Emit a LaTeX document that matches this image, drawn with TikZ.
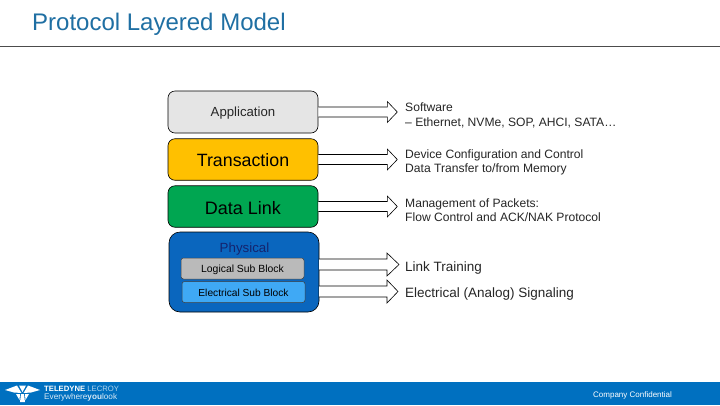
\documentclass[tikz,border=0pt]{standalone}
\usepackage{fontspec}
\setmainfont{Liberation Sans}
\usetikzlibrary{calc}
\definecolor{titleblue}{HTML}{1F6FA3}
\definecolor{barblue}{HTML}{0070C0}
\definecolor{physblue}{HTML}{0A66BE}
\definecolor{elecblue}{HTML}{3FA9F5}
\definecolor{physink}{HTML}{14246E}
\tikzset{
  x=1pt,y=-1pt,
  layer/.style={draw=black,line width=0.6pt,rounded corners=7pt,minimum width=150pt,minimum height=41.5pt,inner sep=0pt},
  sub/.style={draw=black!75,line width=0.5pt,rounded corners=2.5pt,minimum width=123pt,minimum height=21pt,inner sep=0pt},
  desc/.style={anchor=west,align=left,inner sep=0pt,text=black!85,font=\fontsize{12.1}{14.6}\selectfont},
  descb/.style={anchor=west,align=left,inner sep=0pt,text=black!85,font=\fontsize{13.5}{15}\selectfont},
  blockarrow/.style={draw=black,line width=0.6pt,fill=white},
}
% label lowered inside a centred node: extra height moves the baseline down by half of it
\newcommand{\lowered}[2]{\raisebox{0pt}[\dimexpr\height+#1\relax]{#2}}
% #1 start node, #2 tip x-offset
\newcommand{\layerarrow}[2]{%
  \draw[blockarrow] ($(#1.east)+(0,-5)$) -- ++(69,0) -- ++(0,-5.5) -- ($(#1.east)+(#2,0)$)
     -- ($(#1.east)+(69,10.5)$) -- ++(0,-5.5) -- ($(#1.east)+(0,5)$);}
\begin{document}
\begin{tikzpicture}
\useasboundingbox (0,0) rectangle (720,405);
\fill[white] (0,0) rectangle (720,405);
% title
\node[anchor=west,inner sep=0pt,text=titleblue,font=\fontsize{24}{26}\selectfont] (title) at (32,24.3) {Protocol Layered Model};
\coordinate (ruleL) at (0,46.5);
\coordinate (ruleR) at (720,46.5);
\draw[black!70,line width=0.7pt] (ruleL) -- (ruleR);
% layers
\node[layer,fill=black!10,minimum height=42pt,font=\fontsize{13.2}{15}\selectfont,text=black!85] (app) at (243,112) {\lowered{3pt}{Application}};
\node[layer,fill={rgb,255:red,255;green,192;blue,0},font=\fontsize{17.8}{20}\selectfont] (trans) at (243,159.5) {\lowered{2pt}{Transaction}};
\node[layer,fill={rgb,255:red,0;green,166;blue,81},font=\fontsize{18}{20}\selectfont] (dll) at (243,206.5) {\lowered{3pt}{Data Link}};
\node[draw=black,line width=0.6pt,rounded corners=11pt,fill=physblue,minimum width=150pt,minimum height=80pt,inner sep=0pt] (phys) at (244,272) {};
\node[text=physink,inner sep=0pt,font=\fontsize{13.3}{15}\selectfont] (physl) at (244.5,249) {Physical};
\node[sub,fill=black!27,font=\fontsize{10.4}{12}\selectfont] (logic) at (242.5,268.5) {\lowered{3pt}{Logical Sub Block}};
\node[sub,fill=elecblue,font=\fontsize{10.2}{12}\selectfont] (elec) at (243.5,292) {\lowered{2pt}{Electrical Sub Block}};
% arrows
\layerarrow{app}{79}
\layerarrow{trans}{79}
\layerarrow{dll}{79}
\coordinate (physA) at (319,264.5);
\coordinate (physB) at (319,291.5);
\draw[blockarrow] ($(physA)+(0,-5.5)$) -- ++(68,0) -- ++(0,-6) -- ($(physA)+(80,0)$) -- ($(physA)+(68,11.5)$) -- ++(0,-6) -- ($(physA)+(0,5.5)$);
\draw[blockarrow] ($(physB)+(0,-5.5)$) -- ++(68,0) -- ++(0,-6) -- ($(physB)+(79,0)$) -- ($(physB)+(68,11.5)$) -- ++(0,-6) -- ($(physB)+(0,5.5)$);
% descriptions
\node[desc] (d1) at (405,115.5) {Software\\– Ethernet, NVMe, SOP, AHCI, SATA…};
\node[desc] (d2) at (405,162.5) {Device Configuration and Control\\Data Transfer to/from Memory};
\node[desc] (d3) at (405,210) {Management of Packets:\\Flow Control and ACK/NAK Protocol};
\node[descb] (d4) at (405,268) {Link Training};
\node[descb] (d5) at (405,294) {Electrical (Analog) Signaling};
% footer
\fill[barblue] (0,382) rectangle (720,405);
% logo
\fill[white] (5,390) -- (17,385.5) -- (21.5,393) -- (14,392.5) -- cycle;
\fill[white] (40,390) -- (28,385.5) -- (23.5,393) -- (31,392.5) -- cycle;
\fill[white] (19,385.5) -- (26,385.5) -- (22.5,392) -- cycle;
\fill[white] (16,394) -- (20,394) -- (19.5,400) -- cycle;
\fill[white] (29,394) -- (25,394) -- (25.5,400) -- cycle;
\fill[white] (21,394) -- (24,394) -- (25,402) -- (20,402) -- cycle;
\node[anchor=west,inner sep=0pt,text=white,font=\bfseries\fontsize{7.7}{9}\selectfont] (lg1) at (44,389) {TELEDYNE \textcolor{white!70!barblue}{\mdseries LECROY}};
\node[anchor=west,inner sep=0pt,text=white!85!barblue,font=\fontsize{8.2}{9}\selectfont] (lg2) at (44,397.5) {Everywhere\textbf{you}look};
\node[anchor=west,inner sep=0pt,text=white,font=\fontsize{8}{9}\selectfont] (conf) at (593,395.5) {Company Confidential};
\end{tikzpicture}
\end{document}
